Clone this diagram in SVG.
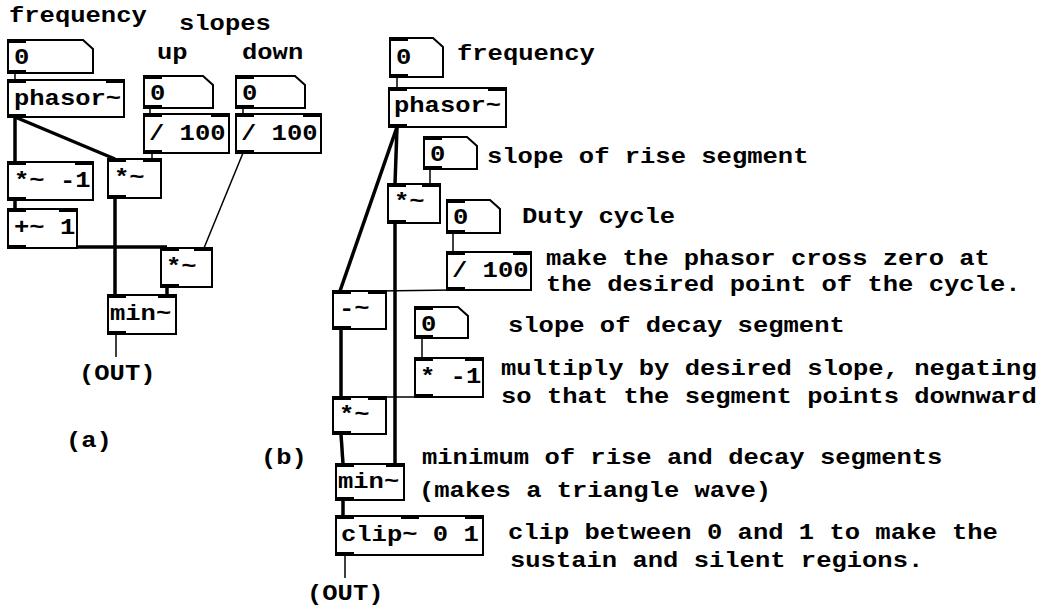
<svg xmlns="http://www.w3.org/2000/svg" width="1044" height="609" viewBox="0 0 1044 609">
<style>
.box{fill:#fff;stroke:#000;stroke-width:2}
.io{fill:#000}
.t{font-family:"Liberation Mono","Courier New",monospace;font-weight:bold;font-size:22px;fill:#000}
.sig{stroke:#000;stroke-width:3.5;fill:none}
.ctl{stroke:#000;stroke-width:1.5;fill:none}
</style>
<rect width="1044" height="609" fill="#fff"/>
<g id="connectors">
<line class="ctl" x1="15" y1="73" x2="15" y2="80"/>
<line class="sig" x1="15" y1="117" x2="15" y2="162"/>
<line class="sig" x1="15" y1="117" x2="115" y2="159"/>
<line class="ctl" x1="150" y1="108" x2="150" y2="114"/>
<line class="ctl" x1="243" y1="108" x2="243" y2="114"/>
<line class="ctl" x1="152" y1="153" x2="152" y2="159"/>
<line class="ctl" x1="243" y1="153" x2="204" y2="248"/>
<line class="sig" x1="15" y1="200" x2="15" y2="209"/>
<line class="sig" x1="115" y1="198" x2="115" y2="295"/>
<line class="sig" x1="15" y1="247" x2="167" y2="247"/>
<line class="sig" x1="167" y1="287" x2="167" y2="295"/>
<line class="ctl" x1="116" y1="334" x2="116" y2="357"/>
<line class="ctl" x1="397" y1="77" x2="397" y2="88"/>
<line class="sig" x1="397" y1="127" x2="395" y2="184"/>
<line class="sig" x1="397" y1="127" x2="340" y2="291"/>
<line class="ctl" x1="430" y1="169" x2="430" y2="184"/>
<line class="sig" x1="395" y1="223" x2="395" y2="464"/>
<line class="ctl" x1="453" y1="233" x2="453" y2="252"/>
<line class="ctl" x1="453" y1="290" x2="378" y2="291"/>
<line class="sig" x1="341" y1="329" x2="341" y2="397"/>
<line class="ctl" x1="422" y1="338" x2="422" y2="358"/>
<line class="ctl" x1="422" y1="397" x2="378" y2="397"/>
<line class="sig" x1="341" y1="434" x2="343" y2="464"/>
<line class="sig" x1="343" y1="500" x2="343" y2="516"/>
<line class="ctl" x1="345" y1="555" x2="345" y2="578"/>
</g>
<g id="a-num-freq"><path class="box" d="M8,40 H83 L93,49 V73 H8 Z"/><rect class="io" x="8" y="39" width="18" height="4"/><rect class="io" x="8" y="70" width="18" height="4"/><text class="t" transform="translate(14,64) scale(1.16,1)">0</text></g>
<g id="a-phasor"><rect class="box" x="8" y="80" width="116" height="37"/><rect class="io" x="8" y="79" width="18" height="4"/><rect class="io" x="106" y="79" width="18" height="4"/><rect class="io" x="8" y="114" width="18" height="4"/><text class="t" transform="translate(14,105) scale(1.16,1)">phasor~</text></g>
<g id="a-num-up"><path class="box" d="M144,76 H203 L213,85 V108 H144 Z"/><rect class="io" x="144" y="75" width="18" height="4"/><rect class="io" x="144" y="105" width="18" height="4"/><text class="t" transform="translate(150,100) scale(1.16,1)">0</text></g>
<g id="a-num-down"><path class="box" d="M236,76 H295 L305,85 V108 H236 Z"/><rect class="io" x="236" y="75" width="18" height="4"/><rect class="io" x="236" y="105" width="18" height="4"/><text class="t" transform="translate(242,100) scale(1.16,1)">0</text></g>
<g id="a-div-up"><rect class="box" x="144" y="114" width="85" height="39"/><rect class="io" x="144" y="113" width="18" height="4"/><rect class="io" x="211" y="113" width="18" height="4"/><rect class="io" x="144" y="150" width="18" height="4"/><text class="t" transform="translate(149,140) scale(1.16,1)">/ 100</text></g>
<g id="a-div-down"><rect class="box" x="236" y="114" width="85" height="39"/><rect class="io" x="236" y="113" width="18" height="4"/><rect class="io" x="303" y="113" width="18" height="4"/><rect class="io" x="236" y="150" width="18" height="4"/><text class="t" transform="translate(241,140) scale(1.16,1)">/ 100</text></g>
<g id="a-mulneg"><rect class="box" x="8" y="162" width="85" height="38"/><rect class="io" x="8" y="161" width="18" height="4"/><rect class="io" x="75" y="161" width="18" height="4"/><rect class="io" x="8" y="197" width="18" height="4"/><text class="t" transform="translate(14,187) scale(1.16,1)">*~ -1</text></g>
<g id="a-mul1"><rect class="box" x="108" y="159" width="53" height="39"/><rect class="io" x="108" y="158" width="18" height="4"/><rect class="io" x="143" y="158" width="18" height="4"/><rect class="io" x="108" y="195" width="18" height="4"/><text class="t" transform="translate(114,184) scale(1.16,1)">*~</text></g>
<g id="a-add"><rect class="box" x="8" y="209" width="69" height="39"/><rect class="io" x="8" y="208" width="18" height="4"/><rect class="io" x="59" y="208" width="18" height="4"/><rect class="io" x="8" y="245" width="18" height="4"/><text class="t" transform="translate(14,234) scale(1.16,1)">+~ 1</text></g>
<g id="a-mul2"><rect class="box" x="161" y="248" width="51" height="39"/><rect class="io" x="161" y="247" width="18" height="4"/><rect class="io" x="194" y="247" width="18" height="4"/><rect class="io" x="161" y="284" width="18" height="4"/><text class="t" transform="translate(166,273) scale(1.16,1)">*~</text></g>
<g id="a-min"><rect class="box" x="108" y="295" width="68" height="39"/><rect class="io" x="108" y="294" width="18" height="4"/><rect class="io" x="158" y="294" width="18" height="4"/><rect class="io" x="108" y="331" width="18" height="4"/><text class="t" transform="translate(110,320) scale(1.16,1)">min~</text></g>
<g id="b-num-freq"><path class="box" d="M390,38 H433 L443,47 V77 H390 Z"/><rect class="io" x="390" y="37" width="18" height="4"/><rect class="io" x="390" y="74" width="18" height="4"/><text class="t" transform="translate(396,64) scale(1.16,1)">0</text></g>
<g id="b-phasor"><rect class="box" x="389" y="88" width="117" height="39"/><rect class="io" x="389" y="87" width="18" height="4"/><rect class="io" x="488" y="87" width="18" height="4"/><rect class="io" x="389" y="124" width="18" height="4"/><text class="t" transform="translate(394,112) scale(1.16,1)">phasor~</text></g>
<g id="b-num-rise"><path class="box" d="M424,137 H467 L477,146 V169 H424 Z"/><rect class="io" x="424" y="136" width="18" height="4"/><rect class="io" x="424" y="166" width="18" height="4"/><text class="t" transform="translate(430,161) scale(1.16,1)">0</text></g>
<g id="b-mul1"><rect class="box" x="388" y="184" width="52" height="39"/><rect class="io" x="388" y="183" width="18" height="4"/><rect class="io" x="422" y="183" width="18" height="4"/><rect class="io" x="388" y="220" width="18" height="4"/><text class="t" transform="translate(394,208) scale(1.16,1)">*~</text></g>
<g id="b-num-duty"><path class="box" d="M447,200 H490 L500,209 V233 H447 Z"/><rect class="io" x="447" y="199" width="18" height="4"/><rect class="io" x="447" y="230" width="18" height="4"/><text class="t" transform="translate(453,224) scale(1.16,1)">0</text></g>
<g id="b-div"><rect class="box" x="447" y="252" width="84" height="38"/><rect class="io" x="447" y="251" width="18" height="4"/><rect class="io" x="513" y="251" width="18" height="4"/><rect class="io" x="447" y="287" width="18" height="4"/><text class="t" transform="translate(452,277) scale(1.16,1)">/ 100</text></g>
<g id="b-sub"><rect class="box" x="333" y="291" width="53" height="38"/><rect class="io" x="333" y="290" width="18" height="4"/><rect class="io" x="368" y="290" width="18" height="4"/><rect class="io" x="333" y="326" width="18" height="4"/><text class="t" transform="translate(339,315) scale(1.16,1)">-~</text></g>
<g id="b-num-decay"><path class="box" d="M415,307 H458 L468,316 V338 H415 Z"/><rect class="io" x="415" y="306" width="18" height="4"/><rect class="io" x="415" y="335" width="18" height="4"/><text class="t" transform="translate(421,331) scale(1.16,1)">0</text></g>
<g id="b-neg"><rect class="box" x="415" y="358" width="68" height="39"/><rect class="io" x="415" y="357" width="18" height="4"/><rect class="io" x="465" y="357" width="18" height="4"/><rect class="io" x="415" y="394" width="18" height="4"/><text class="t" transform="translate(420,383) scale(1.16,1)">* -1</text></g>
<g id="b-mul2"><rect class="box" x="333" y="397" width="53" height="37"/><rect class="io" x="333" y="396" width="18" height="4"/><rect class="io" x="368" y="396" width="18" height="4"/><rect class="io" x="333" y="431" width="18" height="4"/><text class="t" transform="translate(339,421) scale(1.16,1)">*~</text></g>
<g id="b-min"><rect class="box" x="336" y="464" width="68" height="36"/><rect class="io" x="336" y="463" width="18" height="4"/><rect class="io" x="386" y="463" width="18" height="4"/><rect class="io" x="336" y="497" width="18" height="4"/><text class="t" transform="translate(338,488) scale(1.16,1)">min~</text></g>
<g id="b-clip"><rect class="box" x="336" y="516" width="147" height="39"/><rect class="io" x="336" y="515" width="18" height="4"/><rect class="io" x="401" y="515" width="18" height="4"/><rect class="io" x="465" y="515" width="18" height="4"/><rect class="io" x="336" y="552" width="18" height="4"/><text class="t" transform="translate(341,541) scale(1.16,1)">clip~ 0 1</text></g>
<g id="labels">
<text class="t" transform="translate(9,22) scale(1.16,1)">frequency</text>
<text class="t" transform="translate(179,30) scale(1.16,1)">slopes</text>
<text class="t" transform="translate(157,59) scale(1.16,1)">up</text>
<text class="t" transform="translate(242,59) scale(1.16,1)">down</text>
<text class="t" transform="translate(79,380) scale(1.16,1)">(OUT)</text>
<text class="t" transform="translate(66,447) scale(1.16,1)">(a)</text>
<text class="t" transform="translate(261,464) scale(1.16,1)">(b)</text>
<text class="t" transform="translate(457,60) scale(1.16,1)">frequency</text>
<text class="t" transform="translate(487,163) scale(1.16,1)">slope of rise segment</text>
<text class="t" transform="translate(522,223) scale(1.16,1)">Duty cycle</text>
<text class="t" transform="translate(546,265) scale(1.16,1)">make the phasor cross zero at</text>
<text class="t" transform="translate(546,291) scale(1.16,1)">the desired point of the cycle.</text>
<text class="t" transform="translate(508,332) scale(1.16,1)">slope of decay segment</text>
<text class="t" transform="translate(501,375) scale(1.16,1)">multiply by desired slope, negating</text>
<text class="t" transform="translate(501,403) scale(1.16,1)">so that the segment points downward</text>
<text class="t" transform="translate(422,464) scale(1.16,1)">minimum of rise and decay segments</text>
<text class="t" transform="translate(419,497) scale(1.16,1)">(makes a triangle wave)</text>
<text class="t" transform="translate(508,539) scale(1.16,1)">clip between 0 and 1 to make the</text>
<text class="t" transform="translate(510,567) scale(1.16,1)">sustain and silent regions.</text>
<text class="t" transform="translate(307,600) scale(1.16,1)">(OUT)</text>
</g>
</svg>
